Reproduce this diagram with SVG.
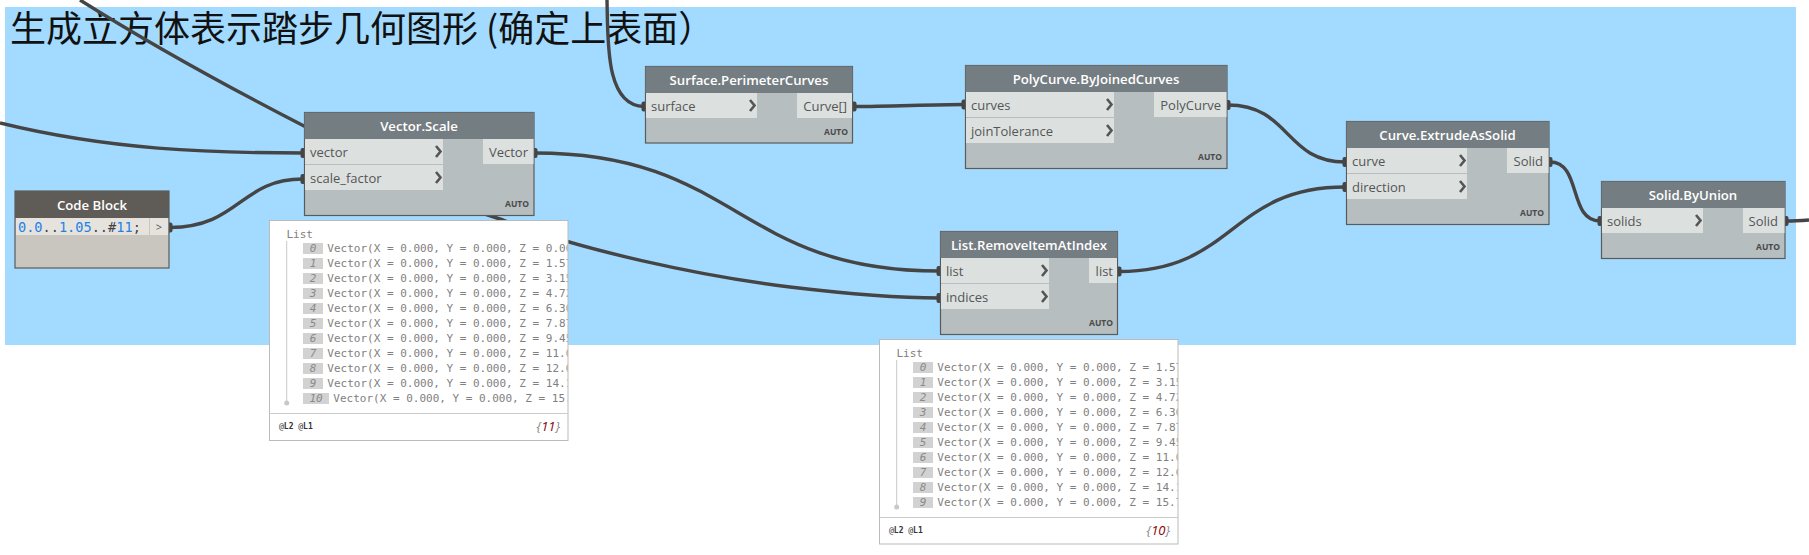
<svg xmlns="http://www.w3.org/2000/svg" width="1809" height="555" viewBox="0 0 1809 555">
<style>
text{font-family:"Open Sans","Noto Sans",sans-serif}
.bd{fill:#b6bec0;stroke:#5a5a5a;stroke-width:1.2}
.hd{fill:#747d82}
.cbd{fill:#c9c6bf;stroke:#5a5a5a;stroke-width:1.2}
.chd{fill:#5f5c58}
.port{fill:#dce1e0}
.t{font-size:13.2px;font-weight:600;fill:#fff;text-anchor:middle}
.p{font-size:13px;fill:#555}
.po{font-size:13px;fill:#555;text-anchor:end}
.auto{font-size:8.5px;font-weight:700;fill:#4a4a4a;text-anchor:end}
.wire{fill:none;stroke:#454545;stroke-width:3.4;stroke-linecap:butt}
.chev{fill:none;stroke:#555;stroke-width:2.6}
.w{fill:#fff;stroke:#bbb;stroke-width:1}
.wl{stroke:#ccc;stroke-width:1;fill:none}
.m{font-family:"DejaVu Sans Mono","Liberation Mono",monospace;font-size:11px;fill:#808080}
.i{fill:#d2d2d2}
.n{font-family:"DejaVu Sans Mono","Liberation Mono",monospace;font-size:11px;font-style:italic;fill:#8a8a8a;text-anchor:middle}
.lv{font-family:"DejaVu Sans Mono",monospace;font-size:8px;fill:#333}
.cnt{font-size:13px;font-style:italic;fill:#8a8a8a;text-anchor:end}
.code{font-family:"DejaVu Sans Mono","Liberation Mono",monospace;font-size:13.6px;fill:#444}
.num{fill:#1e82e6}
</style>
<defs>
<path id="chev" class="chev" d="M-5,-5.5 L-0.5,0 L-5,5.5"/>
<clipPath id="c1"><rect x="269" y="220" width="298.5" height="193"/></clipPath>
<clipPath id="c2"><rect x="879" y="339" width="298.5" height="178"/></clipPath>
<marker id="nub" markerUnits="userSpaceOnUse" markerWidth="10" markerHeight="14" refX="5" refY="7" orient="0" overflow="visible"><rect x="2.500" y="2" width="5" height="10" rx="2" fill="#454545"/></marker>
</defs>
<rect id="group-background" x="5" y="7" width="1791" height="338" fill="#a2dbff"/>
<text id="group-title" x="10" y="42" font-size="36" style="font-family:'Noto Sans CJK SC','Noto Sans',sans-serif" fill="#111">生成立方体表示踏步几何图形 (确定上表面）</text>
<g id="connectors">
<path class="wire" d="M80,0 C150,44 230,88 304,126 C370,162 430,198 503,220 C580,250 700,276 790,287 C840,293 890,298 939,298" marker-end="url(#nub)"/>
<path class="wire" d="M0,123 C110,150 210,153 303,153" marker-end="url(#nub)"/>
<path class="wire" d="M170,227.5 C240,227 240,179 303,179" marker-start="url(#nub)" marker-end="url(#nub)"/>
<path class="wire" d="M535,153 C737,153 737,271 939,271" marker-start="url(#nub)" marker-end="url(#nub)"/>
<path class="wire" d="M607,0 C608,40 605,106 644,106.5" marker-end="url(#nub)"/>
<path class="wire" d="M854,106.5 C890,106.5 930,104.5 964,104.5" marker-start="url(#nub)" marker-end="url(#nub)"/>
<path class="wire" d="M1228,105 C1290,105 1285,162 1345,162" marker-start="url(#nub)" marker-end="url(#nub)"/>
<path class="wire" d="M1119,271.5 C1235,271.5 1230,187 1345,187" marker-start="url(#nub)" marker-end="url(#nub)"/>
<path class="wire" d="M1550,162 C1582,162 1568,221 1600,221" marker-start="url(#nub)" marker-end="url(#nub)"/>
<path class="wire" d="M1786,221 C1795,221 1802,220.5 1809,220" marker-start="url(#nub)"/>
</g>
<g id="node-code-block">
<rect class="cbd" x="15" y="191" width="154" height="77"/>
<rect class="chd" x="15" y="191" width="154" height="27"/>
<text class="t" x="92" y="210">Code Block</text>
<rect x="16" y="218" width="152" height="17" fill="#e6e3de"/>
<rect x="149" y="218" width="1" height="17" fill="#c9c6bf"/>
<text class="code" x="18" y="232"><tspan class="num">0.0</tspan>..<tspan class="num">1.05</tspan>..#<tspan class="num">11</tspan>;</text>
<text x="159" y="231" font-size="11" fill="#555" text-anchor="middle">&gt;</text>
</g>
<g id="node-vector-scale">
<rect class="bd" x="304.5" y="112.5" width="229.5" height="103"/>
<rect class="hd" x="304.5" y="112.5" width="229.5" height="26.5"/>
<text class="t" x="419" y="131">Vector.Scale</text>
<rect class="port" x="305" y="139" width="138" height="25"/>
<rect class="port" x="305" y="165" width="138" height="25"/>
<rect class="port" x="483" y="139" width="50.500" height="25"/>
<text class="p" x="310" y="157">vector</text>
<text class="p" x="310" y="183">scale_factor</text>
<text class="po" x="528" y="157">Vector</text>
<use href="#chev" x="441" y="151.500"/>
<use href="#chev" x="441" y="177.500"/>
<text class="auto" x="529" y="207">AUTO</text>
</g>
<g id="watch-vector-scale">
<rect class="w" x="269.500" y="220.500" width="298.500" height="220"/>
<path class="wl" d="M269.500,413.500 H568"/>
<text class="m" x="286.500" y="238">List</text>
<path d="M286.700,241 V403" stroke="#c8c8c8" fill="none"/>
<circle cx="286.700" cy="403" r="2.500" fill="#c8c8c8"/>
<g clip-path="url(#c1)">
<rect class="i" x="303" y="243" width="20" height="11"/><text class="n" x="313" y="252">0</text><text class="m" x="327.300" y="252">Vector(X = 0.000, Y = 0.000, Z = 0.000)</text>
<rect class="i" x="303" y="258" width="20" height="11"/><text class="n" x="313" y="267">1</text><text class="m" x="327.300" y="267">Vector(X = 0.000, Y = 0.000, Z = 1.575)</text>
<rect class="i" x="303" y="273" width="20" height="11"/><text class="n" x="313" y="282">2</text><text class="m" x="327.300" y="282">Vector(X = 0.000, Y = 0.000, Z = 3.150)</text>
<rect class="i" x="303" y="288" width="20" height="11"/><text class="n" x="313" y="297">3</text><text class="m" x="327.300" y="297">Vector(X = 0.000, Y = 0.000, Z = 4.725)</text>
<rect class="i" x="303" y="303" width="20" height="11"/><text class="n" x="313" y="312">4</text><text class="m" x="327.300" y="312">Vector(X = 0.000, Y = 0.000, Z = 6.300)</text>
<rect class="i" x="303" y="318" width="20" height="11"/><text class="n" x="313" y="327">5</text><text class="m" x="327.300" y="327">Vector(X = 0.000, Y = 0.000, Z = 7.875)</text>
<rect class="i" x="303" y="333" width="20" height="11"/><text class="n" x="313" y="342">6</text><text class="m" x="327.300" y="342">Vector(X = 0.000, Y = 0.000, Z = 9.450)</text>
<rect class="i" x="303" y="348" width="20" height="11"/><text class="n" x="313" y="357">7</text><text class="m" x="327.300" y="357">Vector(X = 0.000, Y = 0.000, Z = 11.025)</text>
<rect class="i" x="303" y="363" width="20" height="11"/><text class="n" x="313" y="372">8</text><text class="m" x="327.300" y="372">Vector(X = 0.000, Y = 0.000, Z = 12.600)</text>
<rect class="i" x="303" y="378" width="20" height="11"/><text class="n" x="313" y="387">9</text><text class="m" x="327.300" y="387">Vector(X = 0.000, Y = 0.000, Z = 14.175)</text>
<rect class="i" x="303" y="393" width="26" height="11"/><text class="n" x="316" y="402">10</text><text class="m" x="333.300" y="402">Vector(X = 0.000, Y = 0.000, Z = 15.750)</text>
</g>
<text class="lv" x="279" y="429">@<tspan font-weight="700">L2</tspan> @<tspan font-weight="700">L1</tspan></text>
<text class="cnt" x="560" y="431">{<tspan fill="#8b0000">11</tspan>}</text>
</g>
<g id="node-surface-perimeter-curves">
<rect class="bd" x="645.500" y="66.500" width="207" height="76.500"/>
<rect class="hd" x="645.500" y="66.500" width="207" height="26.500"/>
<text class="t" x="749" y="85">Surface.PerimeterCurves</text>
<rect class="port" x="646" y="93" width="111" height="25"/>
<rect class="port" x="797" y="93" width="55" height="25"/>
<text class="p" x="651" y="111">surface</text>
<text class="po" x="847" y="111">Curve[]</text>
<use href="#chev" x="755" y="105.500"/>
<text class="auto" x="848" y="135">AUTO</text>
</g>
<g id="node-polycurve-by-joined-curves">
<rect class="bd" x="965.500" y="65.500" width="261.500" height="103"/>
<rect class="hd" x="965.500" y="65.500" width="261.500" height="26.500"/>
<text class="t" x="1096" y="84">PolyCurve.ByJoinedCurves</text>
<rect class="port" x="966" y="92" width="148" height="25"/>
<rect class="port" x="966" y="118" width="148" height="25"/>
<rect class="port" x="1154" y="92" width="72.500" height="25"/>
<text class="p" x="971" y="110">curves</text>
<text class="p" x="971" y="136">joinTolerance</text>
<text class="po" x="1221" y="110">PolyCurve</text>
<use href="#chev" x="1112" y="104.500"/>
<use href="#chev" x="1112" y="130.500"/>
<text class="auto" x="1222" y="160">AUTO</text>
</g>
<g id="node-list-remove-item-at-index">
<rect class="bd" x="940.500" y="231.500" width="177" height="103"/>
<rect class="hd" x="940.500" y="231.500" width="177" height="26.500"/>
<text class="t" x="1029" y="250">List.RemoveItemAtIndex</text>
<rect class="port" x="941" y="258" width="108" height="25"/>
<rect class="port" x="941" y="284" width="108" height="25"/>
<rect class="port" x="1089" y="258" width="28" height="25"/>
<text class="p" x="946" y="276">list</text>
<text class="p" x="946" y="302">indices</text>
<text class="po" x="1113" y="276">list</text>
<use href="#chev" x="1047" y="270.500"/>
<use href="#chev" x="1047" y="296.500"/>
<text class="auto" x="1113" y="326">AUTO</text>
</g>
<g id="watch-remove-item">
<rect class="w" x="879.500" y="339.500" width="298.500" height="204.500"/>
<path class="wl" d="M879.500,517.500 H1178"/>
<text class="m" x="896.500" y="357">List</text>
<path d="M896.700,360 V507" stroke="#c8c8c8" fill="none"/>
<circle cx="896.700" cy="507" r="2.500" fill="#c8c8c8"/>
<g clip-path="url(#c2)">
<rect class="i" x="913" y="362" width="20" height="11"/><text class="n" x="923" y="371">0</text><text class="m" x="937.300" y="371">Vector(X = 0.000, Y = 0.000, Z = 1.575)</text>
<rect class="i" x="913" y="377" width="20" height="11"/><text class="n" x="923" y="386">1</text><text class="m" x="937.300" y="386">Vector(X = 0.000, Y = 0.000, Z = 3.150)</text>
<rect class="i" x="913" y="392" width="20" height="11"/><text class="n" x="923" y="401">2</text><text class="m" x="937.300" y="401">Vector(X = 0.000, Y = 0.000, Z = 4.725)</text>
<rect class="i" x="913" y="407" width="20" height="11"/><text class="n" x="923" y="416">3</text><text class="m" x="937.300" y="416">Vector(X = 0.000, Y = 0.000, Z = 6.300)</text>
<rect class="i" x="913" y="422" width="20" height="11"/><text class="n" x="923" y="431">4</text><text class="m" x="937.300" y="431">Vector(X = 0.000, Y = 0.000, Z = 7.875)</text>
<rect class="i" x="913" y="437" width="20" height="11"/><text class="n" x="923" y="446">5</text><text class="m" x="937.300" y="446">Vector(X = 0.000, Y = 0.000, Z = 9.450)</text>
<rect class="i" x="913" y="452" width="20" height="11"/><text class="n" x="923" y="461">6</text><text class="m" x="937.300" y="461">Vector(X = 0.000, Y = 0.000, Z = 11.025)</text>
<rect class="i" x="913" y="467" width="20" height="11"/><text class="n" x="923" y="476">7</text><text class="m" x="937.300" y="476">Vector(X = 0.000, Y = 0.000, Z = 12.600)</text>
<rect class="i" x="913" y="482" width="20" height="11"/><text class="n" x="923" y="491">8</text><text class="m" x="937.300" y="491">Vector(X = 0.000, Y = 0.000, Z = 14.175)</text>
<rect class="i" x="913" y="497" width="20" height="11"/><text class="n" x="923" y="506">9</text><text class="m" x="937.300" y="506">Vector(X = 0.000, Y = 0.000, Z = 15.750)</text>
</g>
<text class="lv" x="889" y="533">@<tspan font-weight="700">L2</tspan> @<tspan font-weight="700">L1</tspan></text>
<text class="cnt" x="1170" y="535">{<tspan fill="#8b0000">10</tspan>}</text>
</g>
<g id="node-curve-extrude-as-solid">
<rect class="bd" x="1346.500" y="121.500" width="202.500" height="103"/>
<rect class="hd" x="1346.500" y="121.500" width="202.500" height="26.500"/>
<text class="t" x="1447.500" y="140">Curve.ExtrudeAsSolid</text>
<rect class="port" x="1347" y="148" width="120" height="25"/>
<rect class="port" x="1347" y="174" width="120" height="25"/>
<rect class="port" x="1507" y="148" width="41.500" height="25"/>
<text class="p" x="1352" y="166">curve</text>
<text class="p" x="1352" y="192">direction</text>
<text class="po" x="1543" y="166">Solid</text>
<use href="#chev" x="1465" y="160.500"/>
<use href="#chev" x="1465" y="186.500"/>
<text class="auto" x="1544" y="216">AUTO</text>
</g>
<g id="node-solid-by-union">
<rect class="bd" x="1601.500" y="181.500" width="183.500" height="77"/>
<rect class="hd" x="1601.500" y="181.500" width="183.500" height="26.500"/>
<text class="t" x="1693" y="200">Solid.ByUnion</text>
<rect class="port" x="1602" y="208" width="101" height="25"/>
<rect class="port" x="1743" y="208" width="41.500" height="25"/>
<text class="p" x="1607" y="226">solids</text>
<text class="po" x="1778" y="226">Solid</text>
<use href="#chev" x="1701" y="220.500"/>
<text class="auto" x="1780" y="250">AUTO</text>
</g>
</svg>
